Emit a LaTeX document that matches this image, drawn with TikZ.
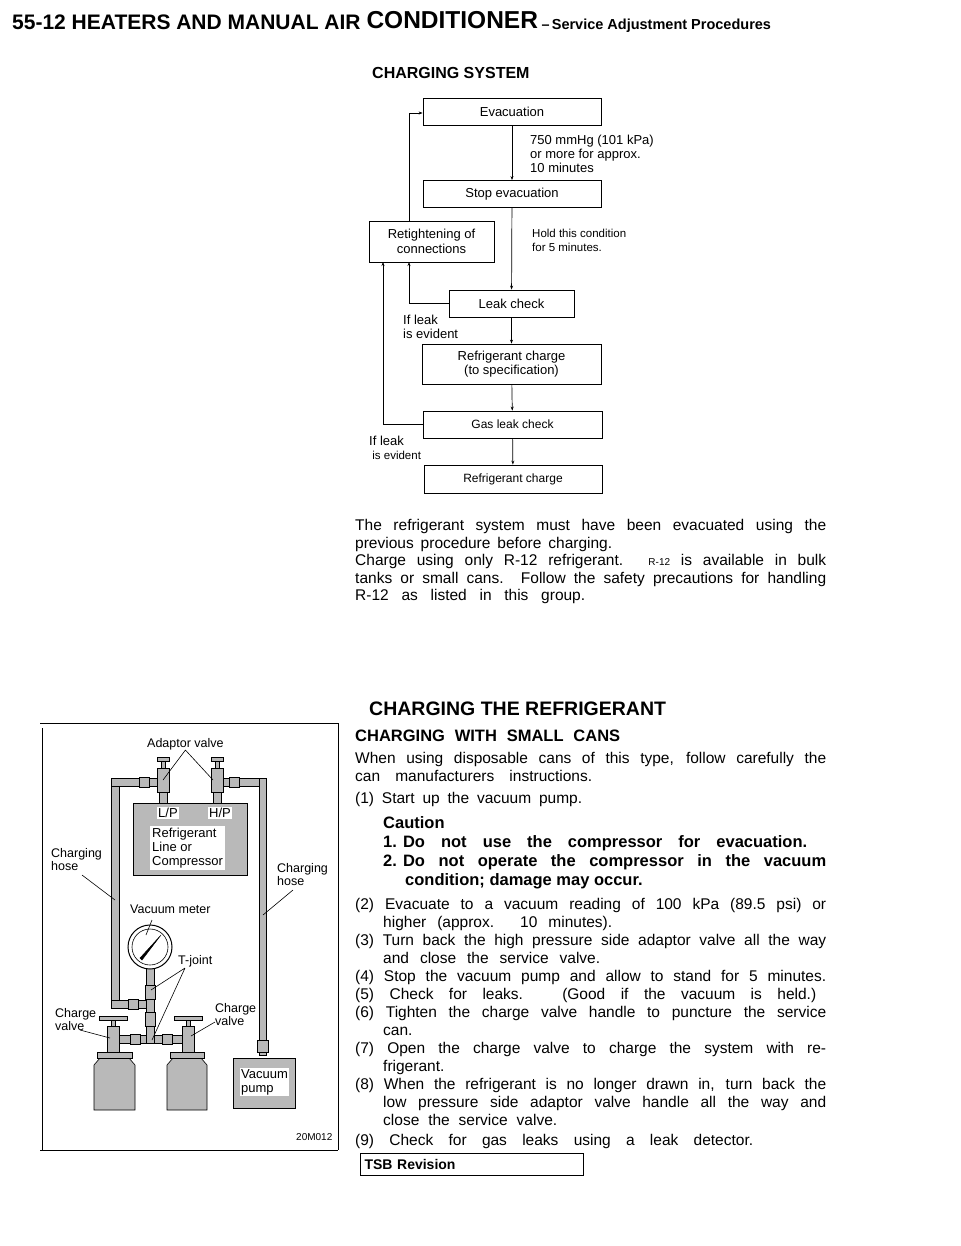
\documentclass[tikz,border=0pt]{standalone}
\usepackage{fontspec}
\setmainfont{Liberation Sans}
\usetikzlibrary{arrows.meta}
\newcommand{\jl}[2][471pt]{\makebox[#1][s]{#2}}
\begin{document}
\begin{tikzpicture}[x=1pt,y=-1pt,
  fbox/.style={draw,line width=0.8pt,minimum height=27pt,font=\fontsize{13}{14.5}\selectfont,align=center,inner sep=1pt},
  flow/.style={line width=0.7pt,-{Stealth[length=4pt,width=3pt]}},
  lbl/.style={font=\fontsize{13}{14}\selectfont,align=left,anchor=north west,inner sep=0pt},
  txt/.style={anchor=base west,inner sep=0pt,font=\fontsize{15.5}{17}\selectfont},
  btx/.style={anchor=base west,inner sep=0pt,font=\bfseries\fontsize{16.5}{17}\selectfont},
  hose/.style={draw=black,fill=gray!55,line width=0.6pt},
  ilbl/.style={font=\fontsize{12.5}{13.5}\selectfont,align=left,inner sep=0pt,anchor=north west},
  lead/.style={line width=0.6pt}]
\useasboundingbox (0,0) rectangle (960,1246);
% header
\node[anchor=base west,inner sep=0pt] (hdr) at (12,30) {\bfseries\fontsize{21}{22}\selectfont 55-12 HEATERS AND MANUAL AIR \raisebox{1pt}{\fontsize{24.5}{26}\selectfont CONDITIONER}\,\fontsize{14}{15}\selectfont{\Large–}\,\fontsize{14.5}{15}\selectfont Service Adjustment Procedures};
% flowchart
\node[anchor=base west,inner sep=0pt,font=\bfseries\fontsize{16}{17}\selectfont] (t1) at (372,79) {CHARGING SYSTEM};
\node[fbox,minimum width=178pt] (ev) at (512,111.5) {Evacuation};
\node[fbox,minimum width=178pt] (se) at (512,194) {Stop evacuation};
\node[fbox,minimum width=125pt,minimum height=41pt] (rt) at (431.5,241.5) {Retightening of\\connections};
\node[fbox,minimum width=125pt] (lc) at (511.5,303.5) {Leak check};
\node[fbox,minimum width=179pt,minimum height=40pt] (rc) at (511.5,364) {Refrigerant charge\\(to specification)};
\node[fbox,minimum width=179pt,font=\fontsize{12}{14}\selectfont] (gl) at (512.5,424.5) {Gas leak check};
\node[fbox,minimum width=178pt,minimum height=28pt,font=\fontsize{12}{14}\selectfont] (rf) at (513,479) {Refrigerant charge};
\draw[flow] (ev) -- (se);
\draw[flow] (se) -- (lc);
\draw[flow] (lc) -- (rc);
\draw[flow] (rc) -- (gl);
\draw[flow] (gl) -- (rf);
\draw[flow] (rt.north -| 409,0) |- (ev.west |- 0,113);
\draw[flow] (lc.west) -| (409,262);
\draw[flow] (gl.west) -| (383,262);
\node[lbl] (l1) at (530,135) {750 mmHg (101 kPa)\\or more for approx.\\10 minutes};
\node[lbl,font=\fontsize{11.5}{13.5}\selectfont] (l2) at (532,229) {Hold this condition\\for 5 minutes.};
\node[lbl] (l3) at (403,315) {If leak\\is evident};
\node[lbl] (l4) at (369,436) {If leak\\\fontsize{11.5}{13.5}\selectfont\ is evident};
% body text
\node[txt] (p1) at (355,530) {\jl{The refrigerant system must have been evacuated using the}};
\node[txt] (p2) at (355,548) {\jl[257pt]{previous procedure before charging.}};
\node[txt] (p3) at (355,565) {\jl{Charge using only R-12 refrigerant. {\fontsize{10}{12}\selectfont R-12} is available in bulk}};
\node[txt] (p4) at (355,583) {\jl{tanks or small cans. Follow the safety precautions for handling}};
\node[txt] (p5) at (355,600) {\jl[230pt]{R-12 as listed in this group.}};
\node[anchor=base west,inner sep=0pt,font=\bfseries\fontsize{19.5}{21}\selectfont] (h2) at (369,715) {CHARGING THE REFRIGERANT};
\node[btx] (h3) at (355,741) {\jl[265pt]{CHARGING WITH SMALL CANS}};
\node[txt] (q1) at (355,763) {\jl{When using disposable cans of this type, follow carefully the}};
\node[txt] (q2) at (355,781) {\jl[237pt]{can manufacturers instructions.}};
\node[txt] (q3) at (355,803) {\jl[227pt]{(1) Start up the vacuum pump.}};
\node[btx] (c0) at (383,828) {Caution};
\node[btx] (c1) at (383,847) {\jl[424pt]{\mbox{1. Do} not use the compressor for evacuation.}};
\node[btx] (c2) at (383,866) {\jl[443pt]{\mbox{2. Do} not operate the compressor in the vacuum}};
\node[btx] (c3) at (405,885) {condition; damage may occur.};
\node[txt] (s2) at (355,909) {\jl{(2) Evacuate to a vacuum reading of 100 kPa (89.5 psi) or}};
\node[txt] (s2b) at (383,927) {\jl[229pt]{higher (approx. 10 minutes).}};
\node[txt] (s3) at (355,945) {\jl{(3) Turn back the high pressure side adaptor valve all the way}};
\node[txt] (s3b) at (383,963) {\jl[217pt]{and close the service valve.}};
\node[txt] (s4) at (355,981) {\jl{(4) Stop the vacuum pump and allow to stand for 5 minutes.}};
\node[txt] (s5) at (355,999) {\jl[461pt]{(5) Check for leaks. (Good if the vacuum is held.)}};
\node[txt] (s6) at (355,1017) {\jl{(6) Tighten the charge valve handle to puncture the service}};
\node[txt] (s6b) at (383,1035) {can.};
\node[txt] (s7) at (355,1053) {\jl{(7) Open the charge valve to charge the system with re-}};
\node[txt] (s7b) at (383,1071) {frigerant.};
\node[txt] (s8) at (355,1089) {\jl{(8) When the refrigerant is no longer drawn in, turn back the}};
\node[txt] (s8b) at (383,1107) {\jl[443pt]{low pressure side adaptor valve handle all the way and}};
\node[txt] (s8c) at (383,1125) {\jl[174pt]{close the service valve.}};
\node[txt] (s9) at (355,1145) {\jl[398pt]{(9) Check for gas leaks using a leak detector.}};
\node[draw,line width=1pt,minimum width=223pt,minimum height=22pt,anchor=north west,inner sep=3pt,font=\bfseries\fontsize{14}{15}\selectfont,text width=215pt] (tsb) at (360,1153) {TSB Revision};
% illustration frame
\draw[line width=1pt] (40,723) -- (338,723) (42,728) -- (42,1150) (338,723) -- (338,1150) (40,1150) -- (338,1150);
% hoses
\draw[hose] (111,778) rectangle (119,1008);
\draw[hose] (111,778) rectangle (163,786);
\draw[hose] (111,1000) rectangle (150,1008);
\draw[hose] (217,778) rectangle (266,786);
\draw[hose] (259,778) rectangle (266,1055);
\draw[hose] (112,1035) rectangle (190,1043);
\draw[hose] (146,965) rectangle (154,1043);
% compressor
\draw[hose,line width=0.8pt] (133,803) rectangle (247,875);
\node[fill=white,inner sep=1pt,font=\fontsize{13}{14}\selectfont] (lp) at (168,813) {L/P};
\node[fill=white,inner sep=1pt,font=\fontsize{13}{14}\selectfont] (hp) at (220,813) {H/P};
\node[fill=white,inner sep=2pt,align=left,font=\fontsize{13}{14}\selectfont,anchor=north west] (rl) at (150,826) {Refrigerant\\Line or\\Compressor};
% adaptor valves
\foreach \x in {163,217}{
  \draw[hose] (\x-4,786) rectangle (\x+4,803);
  \draw[hose] (\x-6,768) rectangle (\x+6,792);
  \draw[hose] (\x-2,760) rectangle (\x+2,768);
  \draw[hose] (\x-6,757) rectangle (\x+6,761);}
\draw[hose] (139,777) rectangle (149,787);
\draw[hose] (229,777) rectangle (239,787);
% gauge
\draw[line width=1pt,fill=white] (150,947) circle (22);
\draw[fill=white,line width=0.6pt] (150,947) circle (18);
\draw[fill=black] (140,958) -- (161,935) -- (142,960) -- cycle;
\draw[hose] (145,985) rectangle (155,999);
\draw[hose] (128,999) rectangle (138,1009);
\draw[hose] (145,1012) rectangle (155,1026);
\draw[hose] (130,1034) rectangle (140,1044);
\draw[hose] (162,1034) rectangle (172,1044);
% charge valves & cylinders
\foreach \x in {113,188}{
  \draw[hose] (\x-6,1026) rectangle (\x+6,1052);
  \draw[hose] (\x-2,1018) rectangle (\x+2,1026);
  \draw[hose] (\x-14,1016) rectangle (\x+14,1020);}
\draw[hose] (94,1110) -- (94,1065) -- (100,1058) -- (129,1058) -- (135,1065) -- (135,1110) -- cycle;
\draw[hose] (97,1052) rectangle (132,1058);
\draw[hose] (167,1110) -- (167,1065) -- (173,1058) -- (201,1058) -- (207,1065) -- (207,1110) -- cycle;
\draw[hose] (170,1052) rectangle (204,1058);
% vacuum pump
\draw[hose] (257,1040) rectangle (268,1052);
\draw[hose] (233,1058) rectangle (295,1108);
\node[fill=white,inner sep=1pt,align=left,font=\fontsize{13}{14}\selectfont,anchor=north west] (vp) at (240,1068) {Vacuum\\pump};
% labels
\node[ilbl] (av) at (147,738) {Adaptor valve};
\draw[lead] (av.south) -- (163,780) (av.south) -- (213,780);
\node[ilbl] (chl) at (51,848) {Charging\\hose};
\draw[lead] (82,875) -- (115,900);
\node[ilbl] (chr) at (277,863) {Charging\\hose};
\draw[lead] (293,890) -- (263,915);
\node[ilbl] (vm) at (130,905) {Vacuum meter};
\draw[lead] (152,920) -- (146,935);
\node[ilbl] (tj) at (178,955) {T-joint};
\draw[lead] (185,968) -- (151,990) (185,968) -- (152,1040);
\node[ilbl] (cvl) at (55,1008) {Charge\\valve};
\draw[lead] (80,1030) -- (110,1038);
\node[ilbl] (cvr) at (215,1003) {Charge\\valve};
\draw[lead] (215,1022) -- (191,1036);
\node[ilbl,font=\fontsize{10}{11}\selectfont] (code) at (296,1133) {20M012};
\end{tikzpicture}
\end{document}
